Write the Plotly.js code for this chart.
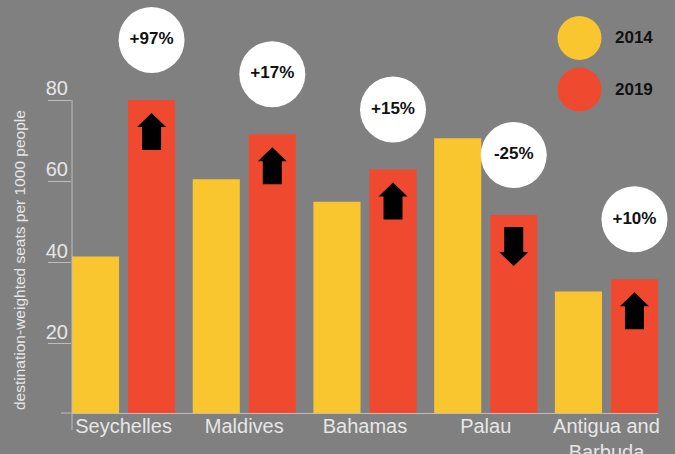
<!DOCTYPE html>
<html>
<head>
<meta charset="utf-8">
<script src="https://cdn.plot.ly/plotly-3.0.1.min.js"></script>
<style>
  html, body { margin: 0; padding: 0; background: #808080; }
  #chart { width: 675px; height: 454px; }
</style>
</head>
<body>
<div id="chart"></div>
<script>
// ---- data ----
const categories = ['Seychelles', 'Maldives', 'Bahamas', 'Palau', 'Antigua and<br>Barbuda'];
const seats2014 = [41.5, 60.5, 55.0, 70.6, 32.9];
const seats2019 = [80.0, 71.6, 62.9, 51.7, 35.9];
const changeLabels = ['+97%', '+17%', '+15%', '-25%', '+10%'];
const yTickValues = [20, 40, 60, 80];
const seriesNames = ['2014', '2019'];

// ---- styling / layout constants ----
const W = 675, H = 454;
const M = { l: 72, r: 17, t: 0, b: 41 };
const plotH = H - M.t - M.b;          // 413
const pw = W - M.l - M.r;
const yBase = 3.03;
const yPerPx = (80 - yBase) / 313;    // value 80 sits 100px below the top
const yRange = [yBase, yBase + plotH * yPerPx];
const xRange = [-0.427, 4.427];
const YELLOW = '#F9C62F', RED = '#EF4A30', BG = '#808080';
const AXIS = '#bdbdbd', LABEL = '#e6e6e6';
const FONT = 'Liberation Sans, Arial, sans-serif';

const xIdx = categories.map((c, i) => i);
const barW = 0.39, offA = -0.427, offB = 0.037;
const redCenter = xIdx.map(i => i + offB + barW / 2);

const traces = [
  { type: 'bar', name: seriesNames[0], x: xIdx, y: seats2014, base: 0,
    width: barW, offset: offA, marker: { color: YELLOW, line: { width: 0 } }, hoverinfo: 'skip' },
  { type: 'bar', name: seriesNames[1], x: xIdx, y: seats2019, base: 0,
    width: barW, offset: offB, marker: { color: RED, line: { width: 0 } }, hoverinfo: 'skip' },
  { type: 'scatter', mode: 'markers+text', x: redCenter,
    y: seats2019.map(v => v + 60 * yPerPx),
    text: changeLabels, textposition: 'middle center',
    textfont: { family: FONT, size: 17, color: '#111', weight: 'bold' },
    marker: { size: 66, color: '#ffffff', line: { width: 0 } },
    cliponaxis: false, hoverinfo: 'skip', showlegend: false }
];

const upPath = 'M0,-13 L14.5,-27 L9.5,-27 L9.5,-50 L-9.5,-50 L-9.5,-27 L-14.5,-27 Z';
const downPath = 'M-9.5,-12 L9.5,-12 L9.5,-37 L14.5,-37 L0,-51 L-14.5,-37 L-9.5,-37 Z';

const shapes = [];
xIdx.forEach(i => {
  shapes.push({
    type: 'path', xref: 'x', yref: 'y',
    xsizemode: 'pixel', ysizemode: 'pixel',
    xanchor: redCenter[i], yanchor: seats2019[i],
    path: seats2019[i] >= seats2014[i] ? upPath : downPath,
    fillcolor: '#000', line: { width: 0 }
  });
});
// y axis line (up to the 80 tick) with its extension below the baseline
const topTick = yTickValues[yTickValues.length - 1];
shapes.push({ type: 'line', xref: 'paper', yref: 'paper', x0: 0, x1: 0,
  y0: -17 / plotH, y1: (topTick - yRange[0]) / (yRange[1] - yRange[0]),
  line: { color: AXIS, width: 1 } });
// baseline extension to the left
shapes.push({ type: 'line', xref: 'paper', yref: 'paper', x0: -11 / pw, x1: 0, y0: 0, y1: 0,
  line: { color: AXIS, width: 1 } });
// legend circles
const legendColors = [YELLOW, RED];
const legendPx = [38, 89.5];
const lx = (579.5 - M.l) / pw;
legendColors.forEach((c, k) => {
  shapes.push({ type: 'circle', xref: 'paper', yref: 'paper', xsizemode: 'pixel', ysizemode: 'pixel',
    xanchor: lx, yanchor: (H - M.b - legendPx[k]) / plotH,
    x0: -22, x1: 22, y0: -22, y1: 22, fillcolor: c, line: { width: 0 } });
});

const annotations = seriesNames.map((n, k) => ({
  text: '<b>' + n + '</b>', xref: 'paper', yref: 'paper',
  x: (613 - M.l) / pw, y: (H - M.b - legendPx[k]) / plotH,
  xanchor: 'left', yanchor: 'middle', showarrow: false,
  font: { family: FONT, size: 17, color: '#111' }
}));
annotations.push({
  text: 'destination-weighted seats per 1000 people', textangle: -90,
  xref: 'paper', yref: 'paper', x: (19 - M.l) / pw, y: (H - M.b - 260) / plotH,
  xanchor: 'center', yanchor: 'middle', showarrow: false,
  font: { family: FONT, size: 15.5, color: LABEL }
});

const layout = {
  width: W, height: H, margin: M,
  paper_bgcolor: BG, plot_bgcolor: BG,
  barmode: 'overlay', showlegend: false,
  font: { family: FONT },
  xaxis: {
    range: xRange, tickvals: xIdx, ticktext: categories,
    showgrid: false, zeroline: false, ticks: '',
    showline: true, linecolor: AXIS, linewidth: 1,
    tickfont: { family: FONT, size: 20, color: LABEL },
    ticklabelstandoff: -5,
    fixedrange: true
  },
  yaxis: {
    range: yRange, tickvals: yTickValues,
    showgrid: false, zeroline: false, showline: false,
    ticks: 'outside', ticklen: 23, tickcolor: AXIS, tickwidth: 1,
    tickfont: { family: FONT, size: 20, color: LABEL },
    ticklabelstandoff: -24, ticklabelshift: -12,
    fixedrange: true
  },
  shapes: shapes,
  annotations: annotations
};

Plotly.newPlot('chart', traces, layout, { displayModeBar: false, staticPlot: true });
</script>
</body>
</html>
